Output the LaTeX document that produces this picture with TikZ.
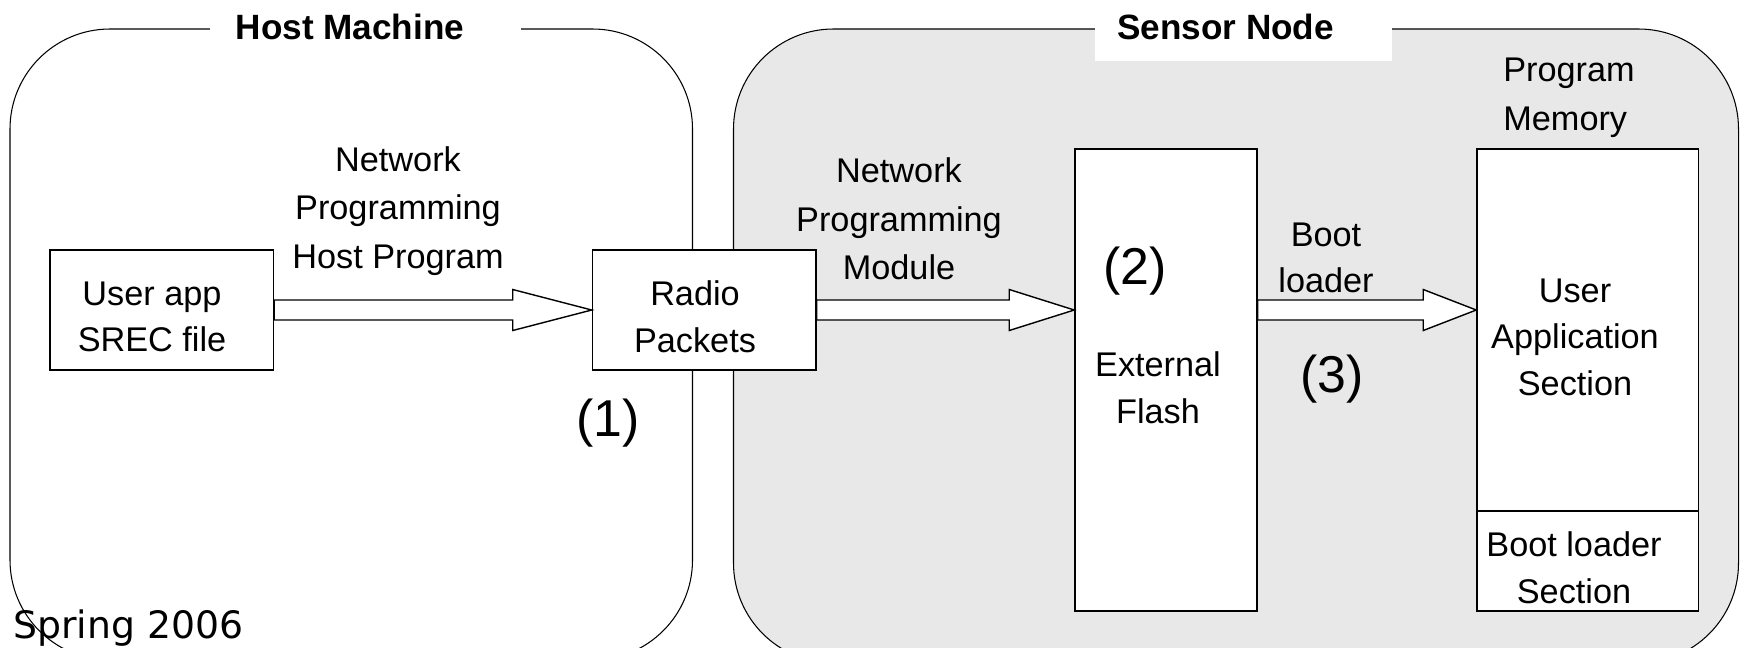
\documentclass[tikz,border=0pt]{standalone}
\usepackage{fontspec}
\setmainfont{Liberation Sans}
\newfontfamily\footfont{DejaVu Sans}
\usetikzlibrary{calc}
\definecolor{nodegray}{HTML}{E8E8E8}
\tikzset{
  region/.style={draw=black, line width=0.6pt, rounded corners=2cm},
  block/.style={draw=black, line width=0.9pt, fill=white, inner sep=0pt},
  lbl/.style={align=center, inner sep=0pt, font=\fontsize{19.5}{26.5}\selectfont},
  widelbl/.style={lbl, font=\fontsize{19.5}{27.6}\selectfont},
  regiontitle/.style={inner sep=0pt, font=\bfseries\fontsize{20}{24}\selectfont},
  stepnum/.style={inner sep=0pt, font=\fontsize{29.5}{34}\selectfont},
  bigarrowline/.style={draw=black, line width=0.8pt, fill=white, line join=miter},
}
% hollow block arrow: #1 tail point, #2 tip point, #3 head length in cm
\newcommand\bigarrow[3]{%
  \draw[bigarrowline] let \p1=(#1), \p2=(#2) in
    (\x1,\y1+0.2cm) -- (\x2-#3cm,\y1+0.2cm) -- (\x2-#3cm,\y1+0.41cm)
    -- (\x2,\y2) -- (\x2-#3cm,\y1-0.41cm) -- (\x2-#3cm,\y1-0.2cm)
    -- (\x1,\y1-0.2cm) -- cycle;}

\begin{document}
\begin{tikzpicture}[x=0.02cm, y=-0.02cm]
\useasboundingbox (0,0) rectangle (1743,647);
\clip (0,0) rectangle (1743,647);

% the two enclosing regions
\draw[region, fill=white] (10,29) rectangle (692.5,660);
\draw[region, fill=nodegray] (733.5,29) rectangle (1738.5,663);

% title patches breaking the region outlines
\fill[white] (210,0) rectangle (521,61);
\fill[white] (1095,0) rectangle (1392,61);
\node[regiontitle] (hosttitle) at (350,26.7) {Host Machine};
\node[regiontitle] (sensortitle) at (1225.5,26.7) {Sensor Node};

% blocks
\node[block, minimum width=4.47cm, minimum height=2.4cm] (user) at (161.75,310) {};
\node[block, minimum width=4.47cm, minimum height=2.4cm] (radio) at (704.25,310) {};
\node[block, minimum width=3.64cm, minimum height=9.24cm] (flash) at (1166,380) {};
\node[block, minimum width=4.43cm, minimum height=7.24cm] (memapp) at (1587.75,330) {};
\node[block, minimum width=4.43cm, minimum height=2cm] (memboot) at (1587.75,561) {};

% block texts
\node[lbl] (usertext) at (152,317) {User app\\SREC file};
\node[lbl] (radiotext) at (695,317) {Radio\\Packets};
\node[lbl] (flashtext) at (1158,388) {External\\Flash};
\node[lbl] (apptext) at (1575,337) {User\\Application\\Section};
\node[lbl] (boottext) at (1574,568) {Boot loader\\Section};
\node[widelbl, align=left, anchor=west] (memtext) at (1503,98) {Program\\Memory};

% arrow labels
\node[widelbl] (hostprog) at (398,211) {Network\\Programming\\Host Program};
\node[widelbl] (npmodule) at (899,219) {Network\\Programming\\Module};
\node[lbl] (bootldr) at (1326,258) {Boot\\loader};

% step numbers
\node[stepnum] (s1) at (608,423) {(1)};
\node[stepnum] (s2) at (1135,271) {(2)};
\node[stepnum] (s3) at (1332,379) {(3)};

% hollow arrows
\bigarrow{user.east}{radio.west}{1.58}
\bigarrow{radio.east}{flash.west |- radio.east}{1.3}
\bigarrow{flash.east |- radio.east}{memapp.west |- radio.east}{1.06}

% footer
\node[anchor=base west, inner sep=0pt, font=\footfont\fontsize{21.5}{24}\selectfont] (footer) at (13,638) {Spring 2006};
\end{tikzpicture}
\end{document}
